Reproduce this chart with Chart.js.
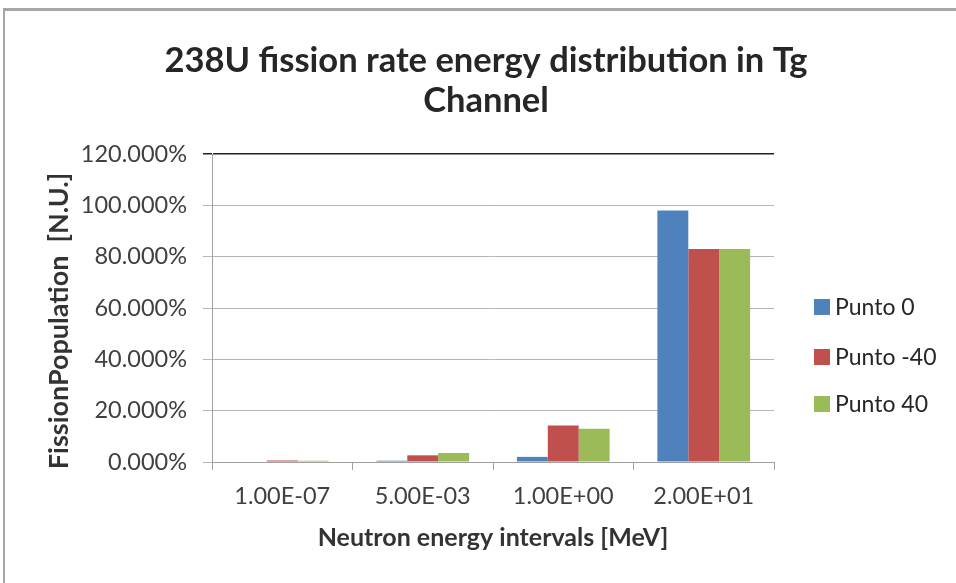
<!DOCTYPE html>
<html><head><meta charset="utf-8">
<script src="https://cdn.jsdelivr.net/npm/chart.js@4"></script>
<style>
html,body{margin:0;padding:0;background:#fff;}
#wrap{position:relative;width:956px;height:583px;overflow:hidden;}
#frame{position:absolute;left:3px;top:8px;width:980px;height:600px;border-top:3px solid #a6a6a6;border-left:2px solid #a6a6a6;box-sizing:border-box;}
canvas{position:absolute;left:0;top:0;}
</style></head>
<body><div id="wrap"><div id="frame"></div><canvas id="c" width="956" height="583"></canvas></div>
<script>
const categories = ['1.00E-07','5.00E-03','1.00E+00','2.00E+01'];
const seriesNames = ['Punto 0','Punto -40','Punto 40'];
const punto0 = [0.0, 0.5, 2.0, 98.0];
const puntoMinus40 = [0.6, 2.6, 14.2, 83.0];
const punto40 = [0.5, 3.5, 13.0, 83.0];
const yTicks = [0, 20, 40, 60, 80, 100, 120];
const colors = ['#4F81BD','#C0504D','#9BBB59'];
const titleLines = ['238U fission rate energy distribution in Tg','Channel'];
const yTitle = 'FissionPopulation  [N.U.]';
const xTitle = 'Neutron energy intervals [MeV]';

const FONT = 'Lato, "Open Sans", sans-serif';

const textPlugin = {
  id:'textPlugin',
  afterDraw(chart){
    const ctx = chart.ctx;
    ctx.save();
    ctx.fillStyle = '#262626';
    ctx.font = 'bold 34.5px ' + FONT;
    ctx.textAlign = 'center';
    ctx.textBaseline = 'alphabetic';
    ctx.fillText(titleLines[0], 486, 72);
    ctx.fillText(titleLines[1], 486, 112);
    // y axis title
    ctx.save();
    ctx.translate(59, 321);
    ctx.rotate(-Math.PI/2);
    ctx.fillStyle = '#333';
    ctx.font = 'bold 27px ' + FONT;
    ctx.textBaseline = 'middle';
    ctx.fillText(yTitle, 0, 0);
    ctx.restore();
    // legend
    ctx.font = '23px ' + FONT;
    ctx.textAlign = 'left';
    ctx.textBaseline = 'middle';
    const ys = [307, 357, 404];
    chart.data.datasets.forEach((ds,i)=>{
      ctx.fillStyle = ds.backgroundColor;
      ctx.fillRect(814, ys[i]-8, 16, 16);
      ctx.fillStyle = '#262626';
      ctx.fillText(ds.label, 835, ys[i]+1);
    });
    ctx.restore();
  }
};

new Chart(document.getElementById('c'), {
  type:'bar',
  data:{
    labels: categories,
    datasets:[
      {label: seriesNames[0], data: punto0, backgroundColor: colors[0]},
      {label: seriesNames[1], data: puntoMinus40, backgroundColor: colors[1]},
      {label: seriesNames[2], data: punto40, backgroundColor: colors[2]}
    ]
  },
  options:{
    responsive:false,
    animation:false,
    devicePixelRatio:1,
    layout:{padding:{left:36, right:182, top:154, bottom:26}},
    datasets:{bar:{categoryPercentage:0.66, barPercentage:1.0}},
    plugins:{legend:{display:false}, title:{display:false}, tooltip:{enabled:false}},
    scales:{
      x:{
        grid:{display:true, drawOnChartArea:false, color:'#a0a0a0', tickLength:8, offset:true},
        border:{color:'#a0a0a0', width:1},
        ticks:{color:'#404040', font:{family:FONT, size:23.5}, padding:12, maxRotation:0},
        title:{display:true, text:xTitle, color:'#333', font:{family:FONT, size:25, weight:'bold'}, padding:{top:4,bottom:4}},
        afterFit(s){ s.height = 95; }
      },
      y:{
        min:0, max:120,
        afterBuildTicks(s){ s.ticks = yTicks.map(v=>({value:v})); },
        grid:{color:(c)=> (c.tick && c.tick.value===120) ? '#222' : '#b5b5b5', tickLength:9, lineWidth:(c)=> (c.tick && c.tick.value===120) ? 1.5 : 1},
        border:{color:'#a0a0a0', width:1},
        ticks:{color:'#404040', font:{family:FONT, size:23.5}, padding:16, callback:(v)=> v.toFixed(3)+'%'},
        title:{display:false},
        afterFit(s){ s.width = 176; }
      }
    }
  },
  plugins:[textPlugin]
});
</script></body></html>
